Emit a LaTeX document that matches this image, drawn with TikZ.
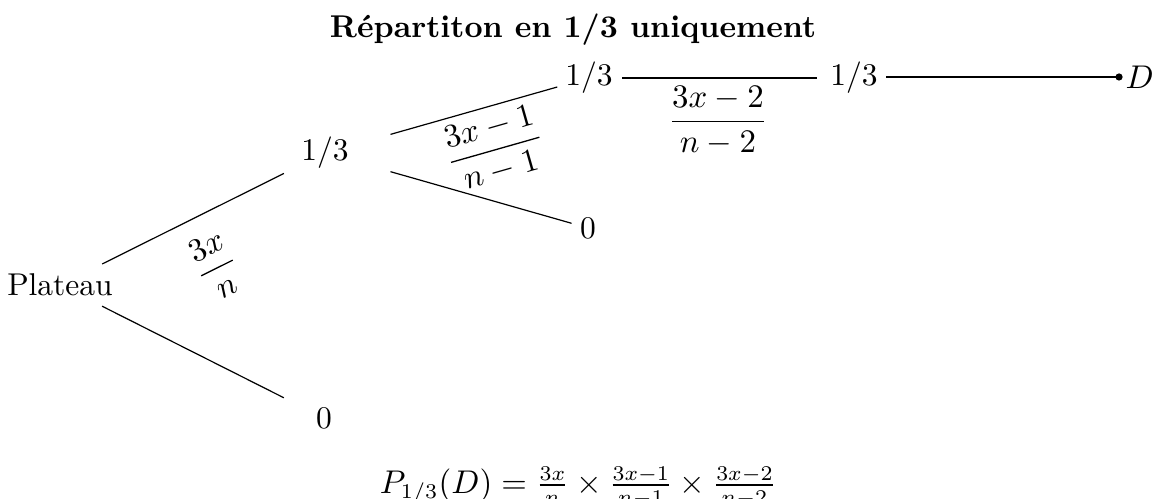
\documentclass[tikz,border=0pt]{standalone}
\usepackage{amsmath}
\usetikzlibrary{positioning}

\tikzset{
	branch/.style={thin},
	proba/.style={inner sep=1pt},
	weight/.style={inner sep=0pt}
}

\begin{document}
\begin{tikzpicture}[x=0.3333pt,y=-0.3333pt,font=\fontsize{10.5}{12.6}\selectfont]
				
				\useasboundingbox (0,0) rectangle (1157,499);
				
				% titre
				\node (titre) at (573,30)
				{\textbf{R\'epartiton en 1/3 uniquement}};
				
				% noeuds de l'arbre
				\node[proba] (plateau) at (60,285) {Plateau};
				\node[proba] (a) at (325,153) {1/3};
				\node[proba] (a0) at (324,418) {0};
				\node[proba] (b) at (589,78) {1/3};
				\node[proba] (b0) at (588,228) {0};
				\node[proba] (c) at (854,78) {1/3};
				\coordinate (fin) at (1119,77);
				\node[anchor=west,inner sep=2pt] (D) at (fin) {$D$};
				
				% branches
				\draw[branch,shorten <=15.7pt,shorten >=15.3pt]
				(plateau.center) -- (a.center);
				\draw[branch,shorten <=15.7pt,shorten >=15pt]
				(plateau.center) -- (a0.center);
				\draw[branch,shorten <=22.7pt,shorten >=11pt]
				(a.center) -- (b.center);
				\draw[branch,shorten <=22.7pt,shorten >=5.7pt]
				(a.center) -- (b0.center);
				\draw[branch,shorten <=11pt,shorten >=12.3pt]
				(b.center) -- (c.center);
				\draw[branch,shorten <=10.7pt]
				(c.center |- fin) -- (fin);
				\fill (fin) circle (1.2pt);
				
				% poids des branches
				\node[weight,rotate=26.5] (p1) at (216,266) {$\dfrac{3x}{n}$};
				\node[weight,rotate=15.9] (p2) at (495,149) {$\dfrac{3x-1}{n-1}$};
				\node[weight] (p3) at (718,121) {$\dfrac{3x-2}{n-2}$};
				
				% formule
				\node (formule) at (578,487)
				{$P_{1/3}(D)=\frac{3x}{n}\times\frac{3x-1}{n-1}\times\frac{3x-2}{n-2}$};
				
			\end{tikzpicture}
\end{document}
